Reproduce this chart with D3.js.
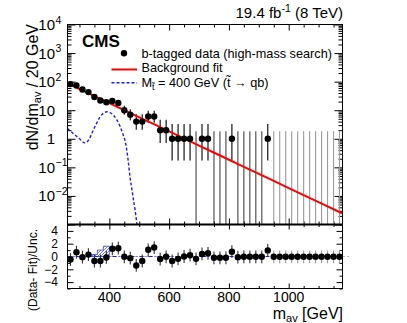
<!DOCTYPE html>
<html>
<head>
<meta charset="utf-8">
<script src="https://cdn.jsdelivr.net/npm/d3@7"></script>
<style>
  body { margin: 0; background: #fff; }
  svg { display: block; font-family: "Liberation Sans", Arial, Helvetica, sans-serif; }
</style>
</head>
<body>
<svg id="chart" width="407" height="323"></svg>
<script>
// ---- data ------------------------------------------------------------------
var massBins = [270, 290, 310, 330, 350, 370, 390, 410, 430, 450, 470, 490, 510, 530, 550,
                570, 590, 610, 630, 650, 670, 690, 710, 730, 750, 770, 790, 810, 830, 850,
                870, 890, 910, 930, 950, 970, 990, 1010, 1030, 1050, 1070, 1090, 1110, 1130,
                1150, 1170];
var counts = [82, 74, 53, 43, 29, 22, 19, 21, 18, 10, 7, 4, 4, 6, 6,
              2, 2, 1, 1, 1, 1, 0, 1, 1, 0, 0, 0, 1, 0, 0,
              0, 0, 0, 1, 0, 0, 0, 0, 0, 0, 0, 0, 0, 0,
              0, 0];
var pulls = [-0.47, 0.68, -0.1, 0.3, -0.7, -0.7, -0.15, 1.2, 1.3, -0.05, -0.26, -1.4, -0.7, 1.05, 1.4,
             -0.4, -0.05, -0.7, -0.37, 0.0, 0.2, -0.37, 0.4, 0.5, -0.2, -0.2, -0.2, 0.75, -0.1, -0.05,
             -0.05, -0.05, -0.05, 0.95, -0.05, -0.05, -0.05, -0.05, -0.05, -0.05, -0.05, -0.05, -0.05, -0.05,
             -0.05, -0.05];

// background fit curve
var fitMass = [260, 300, 400, 500, 600, 700, 800, 900, 1000, 1100, 1180];
var fitValue = [87, 55.2, 17.7, 5.65, 1.81, 0.578, 0.185, 0.0592, 0.0189, 0.00605, 0.00243];

// 400 GeV stop signal shape
var sigMass = [260, 280, 300, 318, 332, 346, 358, 369, 380, 391, 402, 413, 425, 436, 446,
               452, 458, 464, 469, 475, 481, 486, 492, 496];
var sigValue = [2.3, 1.5, 1.0, 0.72, 0.95, 2.0, 3.6, 5.9, 7.8, 8.8, 8.3, 6.8, 4.6, 2.7, 1.4,
                0.9, 0.42, 0.14, 0.047, 0.018, 0.007, 0.0033, 0.0011, 0.0006];

// signal in the pull panel (bin low edges, height)
var sigPullEdges = [340, 360, 380, 400];
var sigPullValue = [0.3, 1.0, 1.6];

var xMajor = [400, 600, 800, 1000];
var xMinor = [300, 350, 450, 500, 550, 650, 700, 750, 850, 900, 950, 1050, 1100, 1150];
var yExps = [4, 3, 2, 1, 0, -1, -2];
var pullMajor = [-4, -2, 0, 2, 4];
var pullMinor = [-5, -3, -1, 1, 3, 5];

// 68% Garwood intervals for small counts
var garwood = {
  0: [0, 1.841], 1: [0.173, 3.300], 2: [0.708, 4.638], 3: [1.367, 5.918],
  4: [2.086, 7.163], 5: [2.840, 8.382], 6: [3.620, 9.584], 7: [4.419, 10.77],
  8: [5.232, 11.95], 9: [6.057, 13.11], 10: [6.891, 14.27]
};

(function () {
  'use strict';

  function interval(n) {
    if (garwood[n]) return garwood[n];
    var s = Math.sqrt(n + 0.25);
    return [n - s + 0.5, n + s + 0.5];
  }

  // ---- layout ---------------------------------------------------------------
  var L = 67.5, R = 342.5, T = 24.5, MID = 224.5, B = 288.5;
  var svg = d3.select('#chart');

  var x = d3.scaleLinear().domain([260, 1180]).range([L, R]);
  var yTop = d3.scaleLog().domain([1e-3, 1e4]).range([MID, T]);
  var yBot = d3.scaleLinear().domain([-5, 5]).range([B, MID]);

  var defs = svg.append('defs');
  defs.append('clipPath').attr('id', 'clipTop')
    .append('rect').attr('x', L).attr('y', T).attr('width', R - L).attr('height', MID - T);
  var hatch = defs.append('pattern').attr('id', 'hatch')
    .attr('patternUnits', 'userSpaceOnUse').attr('width', 3).attr('height', 3);
  hatch.append('path').attr('d', 'M-1,1 l2,-2 M0,3 l3,-3 M2,4 l2,-2')
    .attr('stroke', '#3344ff').attr('stroke-width', 0.7);

  // ---- axes (ticks only, pointing inward) --------------------------------------
  function ticks(axis, tx, ty) {
    var g = svg.append('g').attr('transform', 'translate(' + tx + ',' + ty + ')').call(axis);
    g.select('.domain').remove();
    g.selectAll('text').remove();
    g.selectAll('line').attr('stroke', '#000').attr('stroke-width', 1);
    return g;
  }

  var yMinorTicks = [];
  [-3, -2, -1, 0, 1, 2, 3].forEach(function (e) {
    for (var k = 2; k <= 9; k++) yMinorTicks.push(k * Math.pow(10, e));
  });
  var yMajorTicks = [1e-3, 1e-2, 1e-1, 1, 10, 100, 1e3, 1e4];

  ticks(d3.axisLeft(yTop).tickValues(yMajorTicks).tickSize(-8), L, 0);
  ticks(d3.axisLeft(yTop).tickValues(yMinorTicks).tickSize(-4), L, 0);
  ticks(d3.axisRight(yTop).tickValues(yMajorTicks).tickSize(-8), R, 0);
  ticks(d3.axisRight(yTop).tickValues(yMinorTicks).tickSize(-4), R, 0);
  ticks(d3.axisBottom(x).tickValues(xMajor).tickSize(-6), 0, MID);
  ticks(d3.axisBottom(x).tickValues(xMinor).tickSize(-3), 0, MID);
  ticks(d3.axisTop(x).tickValues(xMajor).tickSize(-6), 0, T);
  ticks(d3.axisTop(x).tickValues(xMinor).tickSize(-3), 0, T);

  ticks(d3.axisLeft(yBot).tickValues(pullMajor).tickSize(-6), L, 0);
  ticks(d3.axisLeft(yBot).tickValues(pullMinor).tickSize(-3), L, 0);
  ticks(d3.axisRight(yBot).tickValues(pullMajor).tickSize(-6), R, 0);
  ticks(d3.axisRight(yBot).tickValues(pullMinor).tickSize(-3), R, 0);
  ticks(d3.axisBottom(x).tickValues(xMajor).tickSize(-5), 0, B);
  ticks(d3.axisBottom(x).tickValues(xMinor).tickSize(-2.5), 0, B);
  ticks(d3.axisTop(x).tickValues(xMajor).tickSize(-5), 0, MID);
  ticks(d3.axisTop(x).tickValues(xMinor).tickSize(-2.5), 0, MID);

  // ---- tick labels ------------------------------------------------------------
  var yLab = svg.append('g').attr('font-size', 15);
  yExps.forEach(function (e) {
    var yy = yTop(Math.pow(10, e));
    if (e === 0 || e === 1) {
      yLab.append('text').attr('x', 55).attr('y', yy + 5.5).attr('text-anchor', 'end')
        .text(e === 0 ? '1' : '10');
    } else {
      yLab.append('text').attr('x', 55).attr('y', yy + 5.5).attr('text-anchor', 'end').text('10');
      yLab.append('text').attr('x', 55.5).attr('y', yy - 1).attr('font-size', 10.5)
        .text(String(e).replace('-', '\u2212'));
    }
  });

  var pLab = svg.append('g').attr('font-size', 12);
  pullMajor.forEach(function (v) {
    pLab.append('text').attr('x', 58).attr('y', yBot(v) + 4.3).attr('text-anchor', 'end')
      .text(v < 0 ? '\u2212' + (-v) : String(v));
  });

  var xLab = svg.append('g').attr('font-size', 14);
  xMajor.forEach(function (v) {
    xLab.append('text').attr('x', x(v)).attr('y', 302).attr('text-anchor', 'middle').text(v);
  });

  // ---- top panel marks ----------------------------------------------------------
  var topG = svg.append('g').attr('clip-path', 'url(#clipTop)');

  massBins.forEach(function (m, i) {
    var n = counts[i];
    var iv = interval(n);
    var lo = iv[0] > 0 ? yTop(iv[0]) : MID + 2;
    var col = n > 0 ? '#000' : (m > 940 ? '#9a9a9a' : '#444');
    topG.append('line')
      .attr('x1', x(m)).attr('x2', x(m))
      .attr('y1', lo).attr('y2', yTop(iv[1]))
      .attr('stroke', col).attr('stroke-width', 1.1);
  });

  var line = d3.line()
    .x(function (d) { return x(d[0]); })
    .y(function (d) { return yTop(d[1]); })
    .curve(d3.curveMonotoneX);

  topG.append('path')
    .datum(sigMass.map(function (m, i) { return [m, sigValue[i]]; }))
    .attr('d', line).attr('fill', 'none')
    .attr('stroke', '#1a1aff').attr('stroke-width', 1.4).attr('stroke-dasharray', '3,2');

  topG.append('path')
    .datum(fitMass.map(function (m, i) { return [m, fitValue[i]]; }))
    .attr('d', line).attr('fill', 'none')
    .attr('stroke', '#ff0000').attr('stroke-width', 2);

  var withCounts = massBins.map(function (m, i) { return { m: m, n: counts[i] }; })
    .filter(function (d) { return d.n > 0; });
  topG.selectAll('circle')
    .data(withCounts)
    .join('circle')
    .attr('cx', function (d) { return x(d.m); })
    .attr('cy', function (d) { return yTop(d.n); })
    .attr('r', 3.2).attr('fill', '#000');

  // ---- bottom panel marks -------------------------------------------------------
  var botG = svg.append('g');

  botG.append('line')
    .attr('x1', L).attr('x2', R + 6).attr('y1', yBot(0)).attr('y2', yBot(0))
    .attr('stroke', '#777').attr('stroke-width', 1).attr('stroke-dasharray', '1,3');

  var sigArea = [];
  sigPullValue.forEach(function (v, i) {
    sigArea.push([sigPullEdges[i], v], [sigPullEdges[i + 1], v]);
  });
  var area = d3.area()
    .x(function (d) { return x(d[0]); })
    .y0(yBot(0))
    .y1(function (d) { return yBot(d[1]); });
  botG.append('path').datum(sigArea).attr('d', area)
    .attr('fill', 'url(#hatch)').attr('stroke', '#3344ff').attr('stroke-width', 0.8);

  botG.append('line')
    .attr('x1', L).attr('x2', R).attr('y1', yBot(0)).attr('y2', yBot(0))
    .attr('stroke', '#1a1aff').attr('stroke-width', 1).attr('stroke-dasharray', '4,2,1,2');

  massBins.forEach(function (m, i) {
    botG.append('line')
      .attr('x1', x(m)).attr('x2', x(m))
      .attr('y1', yBot(pulls[i] - 1)).attr('y2', yBot(pulls[i] + 1))
      .attr('stroke', m > 940 ? '#9a9a9a' : '#333').attr('stroke-width', 1.1);
  });
  botG.selectAll('circle')
    .data(massBins)
    .join('circle')
    .attr('cx', function (m) { return x(m); })
    .attr('cy', function (m, i) { return yBot(pulls[i]); })
    .attr('r', 3.2).attr('fill', '#000');

  // ---- frame --------------------------------------------------------------------
  svg.append('rect').attr('x', L).attr('y', T).attr('width', R - L).attr('height', B - T)
    .attr('fill', 'none').attr('stroke', '#000').attr('stroke-width', 1);
  svg.append('line').attr('x1', L).attr('x2', R).attr('y1', MID).attr('y2', MID)
    .attr('stroke', '#000').attr('stroke-width', 2);

  // ---- titles ---------------------------------------------------------------------
  var lumi = svg.append('text').attr('x', 343).attr('y', 18).attr('text-anchor', 'end').attr('font-size', 15);
  lumi.append('tspan').text('19.4 fb');
  lumi.append('tspan').attr('font-size', 10.5).attr('dy', -6).text('-1');
  lumi.append('tspan').attr('dy', 6).text(' (8 TeV)');

  svg.append('text').attr('x', 82).attr('y', 47).attr('font-size', 17).attr('font-weight', 'bold').text('CMS');

  var yt = svg.append('text').attr('transform', 'translate(38,24) rotate(-90)')
    .attr('text-anchor', 'end').attr('font-size', 16);
  yt.append('tspan').text('dN/dm');
  yt.append('tspan').attr('font-size', 11).attr('dy', 3).text('av');
  yt.append('tspan').attr('dy', -3).text(' / 20 GeV');

  svg.append('text').attr('transform', 'translate(37,229) rotate(-90)')
    .attr('text-anchor', 'end').attr('font-size', 12).text('(Data- Fit)/Unc.');

  var xt = svg.append('text').attr('x', 343).attr('y', 319).attr('text-anchor', 'end').attr('font-size', 16);
  xt.append('tspan').text('m');
  xt.append('tspan').attr('font-size', 11).attr('dy', 2.5).text('av');
  xt.append('tspan').attr('dy', -2.5).text(' [GeV]');

  // ---- legend -----------------------------------------------------------------------
  var leg = svg.append('g').attr('font-size', 12.7);
  leg.append('circle').attr('cx', 124).attr('cy', 53.3).attr('r', 3.2).attr('fill', '#000');
  leg.append('text').attr('x', 141.5).attr('y', 57.8).text('b-tagged data (high-mass search)');
  leg.append('line').attr('x1', 111.5).attr('x2', 137).attr('y1', 69.5).attr('y2', 69.5)
    .attr('stroke', '#ff0000').attr('stroke-width', 2);
  leg.append('text').attr('x', 141.5).attr('y', 72.3).text('Background fit');
  leg.append('line').attr('x1', 111.5).attr('x2', 137).attr('y1', 82.7).attr('y2', 82.7)
    .attr('stroke', '#1a1aff').attr('stroke-width', 1.4).attr('stroke-dasharray', '3,2');
  var sg = leg.append('text').attr('x', 141.5).attr('y', 86.5);
  sg.append('tspan').text('M');
  sg.append('tspan').attr('font-size', 9).attr('dy', 3.5).text('t\u0303');
  sg.append('tspan').attr('dy', -3.5).text(' = 400 GeV (t\u0303 \u2192 qb)');
})();
</script>
</body>
</html>
